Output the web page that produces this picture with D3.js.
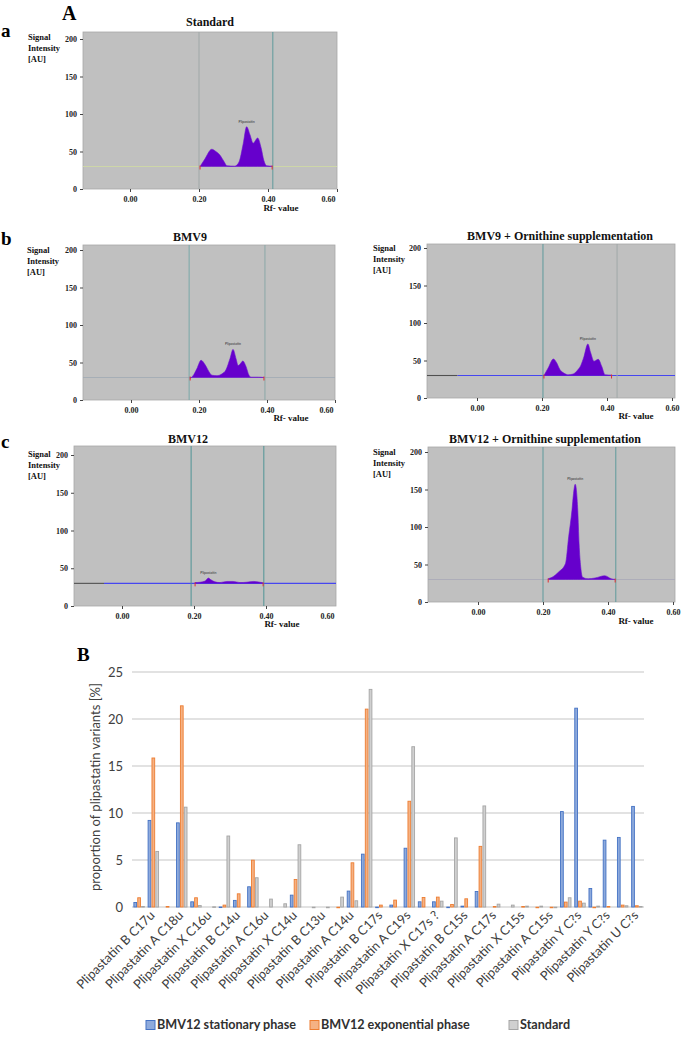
<!DOCTYPE html>
<html><head><meta charset="utf-8">
<script src="https://cdn.jsdelivr.net/npm/d3@7"></script>
<style>body{margin:0;background:#fff}svg{display:block}</style>
</head><body><svg id="c" width="685" height="1038"></svg>
<script>
// ---------------- Panel A data: densitometry traces [Rf, signal AU] ----------------
const standardTrace = [[0.203,30],[0.217,40],[0.237,53],[0.249,50],[0.261,45],[0.272,37],[0.281,31],[0.304,30.5],[0.316,36],[0.328,60],[0.338,83],[0.348,72],[0.357,61],[0.370,68],[0.380,55],[0.388,38],[0.396,31],[0.412,30.5]];
const bmv9Trace = [[0.174,29],[0.182,32],[0.194,42],[0.206,53],[0.218,47],[0.229,38],[0.238,33],[0.253,32.5],[0.268,35],[0.279,40],[0.291,55],[0.300,67.5],[0.309,55],[0.315,46],[0.321,48],[0.329,52],[0.338,45],[0.347,33],[0.353,30.5],[0.374,30.5],[0.391,30]];
const bmv9OrnTrace = [[0.206,30],[0.219,40],[0.235,52],[0.245,47],[0.255,38],[0.268,33],[0.281,31],[0.296,32],[0.309,37],[0.319,43],[0.329,55],[0.341,72],[0.350,60],[0.360,49],[0.373,51.6],[0.384,42],[0.394,31],[0.414,30.5]];
const bmv12Trace = [[0.203,31],[0.217,31.5],[0.231,33],[0.240,37],[0.246,35],[0.258,32],[0.272,31],[0.291,32.5],[0.309,32.5],[0.328,31],[0.346,31.5],[0.365,32.5],[0.383,31.5],[0.392,30.5]];
const bmv12OrnTrace = [[0.216,31],[0.228,33],[0.248,40],[0.269,51],[0.279,87],[0.289,122],[0.294,145],[0.299,157],[0.307,122],[0.311,78],[0.316,47],[0.322,33],[0.339,31],[0.360,32],[0.390,35],[0.410,31],[0.422,30]];
const baselineSignal = 30;
const yTicksA = [0, 50, 100, 150, 200];
const xTicksA = [0, 0.2, 0.4, 0.6];
// integration window markers (Rf)
const standardMarkers = [0.200, 0.414];
const bmv9Markers = [0.171, 0.394];
const bmv9OrnMarkers = [0.203, 0.431];
const bmv12Markers = [0.192, 0.394];
const bmv12OrnMarkers = [0.200, 0.424];

// ---------------- Panel B data ----------------
const categories = ["","Plipastatin B C17u","","Plipastatin A C18u","","Plipastatin X C16u","","Plipastatin B C14u","","Plipastatin A C16u","","Plipastatin X C14u","","Plipastatin B C13u","","Plipastatin A C14u","","Plipastatin B C17s","","Plipastatin A C19s","","Plipastatin X C17s ?","","Plipastatin B C15s","","Plipastatin A C17s","","Plipastatin X C15s","","Plipastatin A C15s","","Plipastatin Y C?s","","Plipastatin Y C?s","","Plipastatin U C?s"];
const seriesNames = ["BMV12 stationary phase","BMV12 exponential phase","Standard"];
const stationary = [0.53,9.26,0,9.0,0.6,0,0.05,0.75,2.2,0,0,1.31,0,0,0,1.74,5.67,0.04,0.25,6.3,0.6,0.6,0.04,0.14,1.7,0,0,0,0,0,10.2,21.2,2.02,7.16,7.45,10.75];
const exponential = [1.03,15.9,0.1,21.45,1.03,0,0.25,1.45,5.03,0,0,2.98,0,0,0.03,4.75,21.1,0.25,0.78,11.3,1.06,1.1,0.32,0.92,6.5,0.1,0,0.1,0.03,0.03,0.57,0.67,0.03,0.1,0.25,0.18];
const standardB = [0.1,5.96,0,10.67,0.2,0.07,7.6,0,3.16,0.89,0.39,6.67,0.03,0.03,1.1,0.71,23.2,0,0,17.1,0,0.67,7.4,0,10.8,0.35,0.25,0.14,0.14,0.03,1.03,0.46,0.14,0,0.18,0.1];
const yTicksB = [0,5,10,15,20,25];

const svg = d3.select('#c');
svg.append('rect').attr('width',685).attr('height',1038).attr('fill','#fff');
const serif = '"Liberation Serif","DejaVu Serif",serif';
const sans = 'Lato,"Liberation Sans",sans-serif';

function panel(cfg){
  const g = svg.append('g');
  const x = d3.scaleLinear().domain([0,0.4]).range(cfg.xr);
  const y = d3.scaleLinear().domain([0,200]).range([cfg.bottom, cfg.y200]);
  g.append('rect').attr('x',cfg.left).attr('y',cfg.top).attr('width',cfg.right-cfg.left).attr('height',cfg.bottom-cfg.top)
    .attr('fill','#c0c0c0').attr('stroke','#a8a8a8').attr('stroke-width',0.8);
  // baseline
  if (cfg.graySeg!==undefined){
    g.append('line').attr('x1',cfg.left).attr('x2',x(cfg.graySeg)).attr('y1',y(baselineSignal)).attr('y2',y(baselineSignal)).attr('stroke','#505050').attr('stroke-width',1.1);
    g.append('line').attr('x1',x(cfg.graySeg)).attr('x2',cfg.right).attr('y1',y(baselineSignal)).attr('y2',y(baselineSignal)).attr('stroke',cfg.baseColor).attr('stroke-width',1.2);
  } else {
    g.append('line').attr('x1',cfg.left).attr('x2',cfg.right).attr('y1',y(baselineSignal)).attr('y2',y(baselineSignal)).attr('stroke',cfg.baseColor).attr('stroke-width',cfg.baseW||0.8);
  }
  // markers
  cfg.markers.forEach((m,i)=>{
    g.append('line').attr('x1',x(m)).attr('x2',x(m)).attr('y1',cfg.top).attr('y2',cfg.bottom)
      .attr('stroke',cfg.markerColors[i]).attr('stroke-width',1);
  });
  // trace
  const area = d3.area().x(d=>x(d[0])).y0(y(baselineSignal)).y1(d=>y(d[1])).curve(d3.curveMonotoneX);
  g.append('path').datum(cfg.trace).attr('d',area).attr('fill','#6600cc').attr('stroke','#6a10d0').attr('stroke-width',0.6);
  // red integration marks
  const tr = cfg.trace;
  [tr[0][0], tr[tr.length-1][0]].forEach(r=>{
    g.append('line').attr('x1',x(r)).attr('x2',x(r)).attr('y1',y(baselineSignal)-1).attr('y2',y(baselineSignal)+3).attr('stroke','#e03030').attr('stroke-width',1);
  });
  // peak annotation
  const pk = tr.reduce((a,b)=>b[1]>a[1]?b:a);
  g.append('text').attr('x',x(pk[0])).attr('y',y(pk[1])-4).attr('text-anchor','middle')
    .attr('font-family',sans).attr('font-size',3.5).attr('fill','#333').text('Plipastatin');
  // y axis
  const ya = g.append('g').attr('transform',`translate(${cfg.left},0)`)
    .call(d3.axisLeft(y).tickValues(yTicksA).tickSize(3).tickPadding(3).tickFormat(d3.format('d')));
  ya.select('.domain').remove();
  ya.selectAll('text').attr('font-family',serif).attr('font-weight','bold').attr('font-size',8).attr('fill','#222');
  ya.selectAll('line').attr('stroke','#444');
  // x axis
  const xa = g.append('g').attr('transform',`translate(0,${cfg.bottom})`)
    .call(d3.axisBottom(x).tickValues(xTicksA).tickSize(3).tickPadding(4).tickFormat(d3.format('.2f')));
  xa.select('.domain').remove();
  xa.selectAll('line').attr('stroke','#444');
  xa.selectAll('text').attr('font-family',serif).attr('font-weight','bold').attr('font-size',8).attr('fill','#222')
    .attr('x', d => (x(d) > cfg.right - 1.5) ? (cfg.right - 9 - x(d)) : 0);
  xa.selectAll('.tick').filter(d => x(d) > cfg.right + 0.5).select('line').remove();
  // Rf label
  g.append('text').attr('x',cfg.rfLab[0]).attr('y',cfg.rfLab[1]).attr('text-anchor','middle')
    .attr('font-family',serif).attr('font-weight','bold').attr('font-size',9).attr('fill','#111').text('Rf- value');
  // title
  g.append('text').attr('x',cfg.titlePos[0]).attr('y',cfg.titlePos[1]).attr('text-anchor','middle')
    .attr('font-family',serif).attr('font-weight','bold').attr('font-size',12).attr('fill','#111').text(cfg.title);
  // y label
  ['Signal','Intensity','[AU]'].forEach((t,i)=>{
    g.append('text').attr('x',cfg.sigPos[0]).attr('y',cfg.sigPos[1]+i*10.8)
      .attr('font-family',serif).attr('font-weight','bold').attr('font-size',8.5).attr('fill','#111').text(t);
  });
}

panel({title:'Standard', trace:standardTrace, markers:standardMarkers, markerColors:['#a0a8a8','#5e9a9c'],
  left:83, right:337, top:32, bottom:189, y200:39, xr:[130,268], baseColor:'#cdd6a8', baseW:1,
  titlePos:[210,26], rfLab:[281,211], sigPos:[28,40]});
panel({title:'BMV9', trace:bmv9Trace, markers:bmv9Markers, markerColors:['#7aa8a8','#8aa8a8'],
  left:83, right:335, top:245, bottom:400, y200:250, xr:[131,267], baseColor:'#a0aab4',
  titlePos:[190,241], rfLab:[291,421], sigPos:[27,253]});
panel({title:'BMV9 + Ornithine supplementation', trace:bmv9OrnTrace, markers:bmv9OrnMarkers, markerColors:['#5e9a9c','#a0a8a8'],
  left:427, right:675, top:244, bottom:398, y200:248, xr:[477,607], baseColor:'#4646f0', graySeg:-0.06,
  titlePos:[560,240], rfLab:[636,419], sigPos:[373,251]});
panel({title:'BMV12', trace:bmv12Trace, markers:bmv12Markers, markerColors:['#4f9496','#4f9496'],
  left:74, right:336, top:446, bottom:606, y200:455, xr:[122,266], baseColor:'#4646f0', graySeg:-0.05,
  titlePos:[188,443], rfLab:[282,627], sigPos:[28,457]});
panel({title:'BMV12 + Ornithine supplementation', trace:bmv12OrnTrace, markers:bmv12OrnMarkers, markerColors:['#5e9a9c','#5e9a9c'],
  left:428, right:675, top:447, bottom:602, y200:452, xr:[478,608], baseColor:'#a8a8b8',
  titlePos:[545,443], rfLab:[636,624], sigPos:[373,455]});

// panel letters
const letter = (t,x,y,s)=>svg.append('text').attr('x',x).attr('y',y).attr('font-family',serif).attr('font-weight','bold').attr('font-size',s).attr('fill','#000').text(t);
letter('A',62,20,20); letter('a',1,37,19); letter('b',1,245,19); letter('c',1,448,19); letter('B',77,661,19);

// ---------------- Panel B: bar chart ----------------
const gB = svg.append('g');
const xB = d3.scaleBand().domain(d3.range(categories.length)).range([132,644]).paddingInner(0.2).paddingOuter(0.1);
const xS = d3.scaleBand().domain(seriesNames).range([0,xB.bandwidth()]).paddingInner(0.06);
const yB = d3.scaleLinear().domain([0,25]).range([907,672]);
const fills = ['#8eaadc','#f5b183','#d0d0d0'];
const strokes = ['#4472c4','#ed7d31','#a5a5a5'];

gB.selectAll('line.grid').data(yTicksB).join('line').attr('class','grid')
  .attr('x1',132).attr('x2',644).attr('y1',d=>yB(d)).attr('y2',d=>yB(d))
  .attr('stroke','#d9d9d9').attr('stroke-width',1.3);
gB.selectAll('text.yt').data(yTicksB).join('text').attr('class','yt')
  .attr('x',123).attr('y',d=>yB(d)).attr('dy','0.35em').attr('text-anchor','end')
  .attr('font-family',sans).attr('font-size',13).attr('fill','#404040').text(d=>d);
gB.append('text').attr('transform','translate(100,787) rotate(-90)').attr('text-anchor','middle')
  .attr('font-family',sans).attr('font-size',13).attr('fill','#404040').text('proportion of plipastatin variants [%]');

const seriesData = [stationary, exponential, standardB];
seriesData.forEach((vals,si)=>{
  gB.append('g').selectAll('rect').data(vals.map((v,i)=>({v,i})).filter(d=>d.v>0)).join('rect')
    .attr('x',d=>xB(d.i)+xS(seriesNames[si])+0.45)
    .attr('y',d=>yB(d.v)+0.45)
    .attr('width',xS.bandwidth()-0.9)
    .attr('height',d=>Math.max(0.6,yB(0)-yB(d.v)-0.45))
    .attr('fill',fills[si]).attr('stroke',strokes[si]).attr('stroke-width',0.9);
});

gB.selectAll('text.xl').data(categories.map((c,i)=>({c,i})).filter(d=>d.c!=='')).join('text').attr('class','xl')
  .attr('transform',d=>`translate(${xB(d.i)+xB.bandwidth()/2-1},${913}) rotate(-45)`)
  .attr('text-anchor','end').attr('dy','0.35em')
  .attr('font-family',sans).attr('font-size',12.8).attr('fill','#404040').text(d=>d.c);

// legend
const legX = [146,310,509];
seriesNames.forEach((n,i)=>{
  gB.append('rect').attr('x',legX[i]).attr('y',1020.5).attr('width',9).attr('height',9)
    .attr('fill',fills[i]).attr('stroke',strokes[i]).attr('stroke-width',1);
  gB.append('text').attr('x',legX[i]+11).attr('y',1025).attr('dy','0.35em')
    .attr('font-family',sans).attr('font-weight','bold').attr('font-size',12.6).attr('fill','#303030').text(n);
});
</script></body></html>
